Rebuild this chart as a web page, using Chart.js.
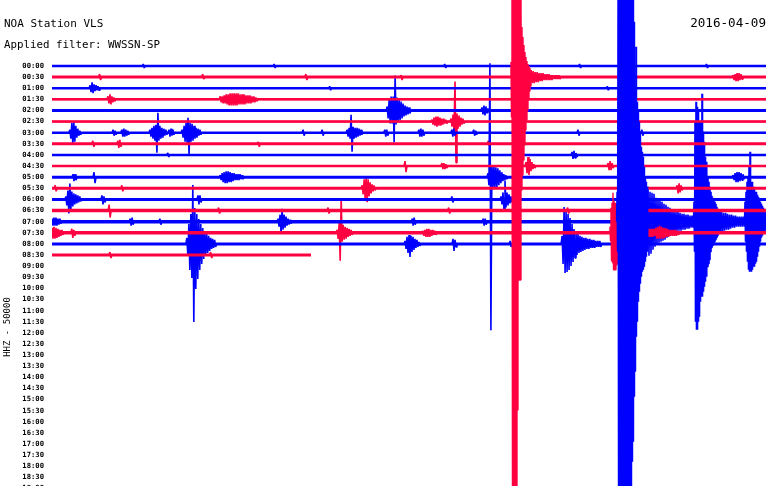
<!DOCTYPE html>
<html><head><meta charset="utf-8">
<script src="https://cdn.jsdelivr.net/npm/chart.js@4.4.1/dist/chart.umd.min.js"></script>
<style>html,body{margin:0;padding:0;background:#fff;overflow:hidden}#wrap{width:770px;height:486px;position:relative}</style>
</head><body><div id="wrap"><canvas id="c"></canvas></div>
<script>
// ---------- texts ----------
const TITLE = 'NOA Station VLS';
const FILTER = 'Applied filter: WWSSN-SP';
const DATE = '2016-04-09';
const CHANNEL = 'HHZ - 50000';
const TIME_LABELS = ['00:00','00:30','01:00','01:30','02:00','02:30','03:00','03:30','04:00','04:30',
  '05:00','05:30','06:00','06:30','07:00','07:30','08:00','08:30','09:00','09:30','10:00','10:30',
  '11:00','11:30','12:00','12:30','13:00','13:30','14:00','14:30','15:00','15:30','16:00','16:30',
  '17:00','17:30','18:00','18:30','19:00'];

// ---------- data ----------
// seconds per helicorder line, end of recorded data in the last line (s)
const ROW_SECONDS = 1800;
const LAST_ROW_END = 653;
// amplitude units between two lines
const ROW_GAP = 11.12;

// each burst: [start second, sample step (s), signed amplitudes]
const ROW_0000 = [[230,2.5,[2,-2]],[560,2.5,[2,-2]],[990,2.5,[2,-2]],[1330,2.5,[2,-2]],[1650,2.5,[2,-2]]];
const ROW_0030 = [[120,2.5,[3,-3]],[380,2.5,[3,-2]],[640,2.5,[3,-3]],[880,2.5,[2,-3]],
  [1208,2.5,[7,-6,6,-6,5,-5,5,-5,4,-4,4,-4,4,-3,3,-3,3,-3,3,-3,2,-3,2,-2,2,-2,2,-2,2,-2]],
  [1717,2.5,[2,-3,3,-4,4,-4,4,-3,3,-2]]];
const ROW_0100 = [[96,2.5,[3,-4,6,-5,4,-3,3,-2,2,-2]],[700,2.5,[2,-2]],[1400,2.5,[2,-2]]];
const ROW_0130 = [[141,2.5,[3,-4,5,-5,3,-3,2,-2]],
  [424,2.5,[3,-3,3,-4,4,-4,5,-5,5,-6,6,-6,6,-6,6,-6,6,-6,6,-5,5,-5,5,-5,5,-5,4,-4,4,-4,4,-4,3,-3,3,-3,2,-2]]];
const ROW_0200 = [[845,2.5,[4,-8,12,-13,14,-13,14,-32,35,-14,13,-12,11,-10,9,-8,7,-6,5,-5,4,-4,3,-3]],
  [1084,2.5,[3,-4,5,-5,4,-3,2,-2]]];
const ROW_0230 = [[958,2.5,[2,-3,4,-4,5,-5,5,-4,4,-4,3,-3,3,-2,2,-2]],
  [1006,2.5,[3,-5,7,-8,40,-41,8,-7,6,-5,4,-3,3,-2]]];
const ROW_0300 = [[45,2.5,[3,-6,10,-12,11,-9,7,-5,4,-3,2,-2]],[154,2.5,[3,-3,2,-2]],[176,2.5,[3,-4,4,-4,3,-3,2,-2]],
  [247,2.5,[3,-4,5,-6,7,-8,8,-20,20,-8,7,-6,5,-5,4,-3,3,-2]],[295,2.5,[3,-4,4,-3,3,-2]],
  [328,2.5,[3,-5,7,-9,10,-10,15,-22,10,-9,9,-8,7,-6,5,-5,4,-3,3,-2]],[633,2.5,[3,-3]],[681,2.5,[3,-3]],
  [744,2.5,[3,-4,5,-6,18,-19,6,-6,5,-5,5,-4,4,-3,3,-2]],[839,2.5,[3,-4,3,-3]],[925,2.5,[3,-4,4,-4,3,-3]],
  [1008,2.5,[3,-4,4,-3]],[1063,2.5,[3,-3,2,-2]],[1326,2.5,[3,-3]],[1487,2.5,[3,-3]]];
const ROW_0330 = [[103,2.5,[3,-3]],[166,2.5,[3,-4,4,-3]],[520,2.5,[2,-3]],[1100,2.5,[3,-2]],[1450,2.5,[2,-3]]];
const ROW_0400 = [[292,2.5,[2,-2]],[1311,2.5,[3,-4,4,-3,2,-2]]];
const ROW_0430 = [[890,2.5,[5,-6]],[983,2.5,[3,-3,3,-3,2,-2]],[1195,2.5,[4,-7,9,-9,7,-5,4,-3,2,-2]],[1402,2.5,[3,-4,5,-4,3,-2]]];
const ROW_0500 = [[53,2.5,[3,-4,3,-3]],[106,2.5,[5,-6]],
  [424,2.5,[2,-3,4,-5,5,-6,6,-6,6,-5,5,-5,4,-4,4,-3,3,-3,3,-3,3,-2,2,-2]],
  [1099,2.5,[4,-8,114,-153,12,-12,12,-11,10,-10,9,-8,7,-6,5,-4,3,-3,2,-2]],
  [1717,2.5,[2,-3,4,-5,5,-5,5,-4,4,-3,3,-2]]];
const ROW_0530 = [[8,2.5,[3,-3]],[176,2.5,[3,-3]],[782,2.5,[3,-6,9,-11,11,-14,9,-8,6,-5,4,-3,3,-2]],[1576,2.5,[3,-5,5,-4,3,-2]]];
const ROW_0600 = [[35,2.5,[3,-6,9,-14,16,-10,8,-7,6,-5,5,-4,4,-3,3,-2]],[126,2.5,[4,-5,3,-3]],[368,2.5,[4,-5,4,-3]],
  [1008,2.5,[3,-3]],[1132,2.5,[3,-5,7,-11,19,-8,7,-6,5,-4,3,-3,2,-2]]];
const ROW_0630 = [[144,2.5,[6,-7]],[420,2.5,[3,-3]],[696,2.5,[3,-3]],[1000,2.5,[3,-3]],[1300,2.5,[3,-3]]];
const ROW_0700 = [[0,2.5,[3,-4,4,-4,4,-4,3,-3,3,-2]],[197,2.5,[3,-4,4,-3]],[272,2.5,[3,-3]],
  [570,2.5,[3,-5,7,-12,13,-8,7,-6,5,-4,3,-3,2,-2]],[908,2.5,[3,-4,4,-3]],[1087,2.5,[3,-4,3,-3]],
  // coda of the 07:24 shock
  [1502.5,2.521,[35,-34,30,-32,29,-28,28,-25,24,-23,23,-21,22,-20,20,-19,18,-18,
    17,-16,15,-14,14,-13,12,-12,11,-11,10,-10,10,-9,9,-9,8,-8,8,-8,7,-7,7,-7,6,-6,6,-6,6]],
  // aftershock ~07:27
  [1618.5,1.26,[20,-30,100,-100,120,-108,115,-108,110,-100,100,-95,100,-80,95,-75,128,-75,90,-70,80,-65,
    65,-60,60,-55,50,-45,45,-42,40,-38,35,-30,30,-26,26,-24,24,-22,22,-20,20,-18,18,-16,15,-14,13,-12,
    12,-11,11,-10]],
  [1688,2.521,[10,-10,9,-9,9,-8,8,-8,7,-7,7,-6,6,-6,6,-5,5,-5,5,-5,5,-5,5,-5]],
  // aftershock ~07:29
  [1747.1,1.26,[20,-20,30,-30,40,-40,45,-48,55,-50,70,-50,40,-50,40,-48,35,-45,35,-45,30,-42,30,-40,
    27,-35,25,-30,22,-25,20,-20,18,-16,16,-14,14,-12,12,-10,10,-9,8,-8]]];
const ROW_0730 = [[0,2.5,[5,-6,6,-6,5,-5,4,-4,3,-3,3,-2]],[50,2.5,[4,-5,3,-3]],
  [719,2.5,[3,-6,10,-28,34,-9,8,-7,6,-6,5,-4,4,-3,3,-2]],[935,2.5,[2,-3,3,-4,4,-4,4,-4,3,-3,3,-2,2,-2]],
  [1462,2.5,[8,-8,7,-7,7,-7,6,-6,6,-6,5,-5,5,-5,5,-4,4,-4,4,-4,4,-4,4,-3,5,-6,6,-6,7,-6,6,-6,5,-5,5,-4,4,-4,3,-3,3,-3,3,-3,3,-3,2,-2]]];
const ROW_0800 = [[340,2.5,[6,-12,20,-26,30,-34,59,-78,36,-45,30,-35,25,-26,20,-20,16,-15,13,-11,10,-9,8,-7,6,-5,5,-4,4,-3]],
  [890,2.5,[3,-5,7,-9,9,-13,8,-8,7,-6,5,-4,4,-3,2,-2]],[1011,2.5,[5,-7,4,-3]],[1155,2.5,[3,-3]],
  [1286,2.5,[8,-20,37,-29,33,-28,30,-26,26,-22,20,-18,15,-14,12,-11,10,-9,8,-8,7,-7,6,-6,6,-5,5,-5,5,-4,4,-4,4,-4,3,-3,3,-3,3,-3]]];
const ROW_0830 = [[146,2.5,[3,-3]],[400,2.5,[3,-3]]];

// the three largest arrivals (drawn above everything else)
const MAIN_0030 = [1157.1,1.26,[15,-40,90,-420,90,-420,90,-420,90,-420,90,-420,90,-333,90,-203,90,-203,90,-203,
  90,-113,50,-98,40,-83,32,-68,25,-53,20,-43,16,-33,13,-23,11,-14,9,-9]];
const MAIN_0730 = [1406.7,1.26,[6,-8,25,-28,30,-30,40,-37,32,-37,30,-37,30,-32,28,-30,28,-28,27,-27,26,-26,
  24,-25,22,-24,20,-22,18,-20,16,-18,15,-16,14,-14,12,-12,11,-11,10,-10,9,-9]];
const MAIN_0700 = [1424.4,1.26,[30,-30,240,-280,240,-280,240,-280,240,-280,240,-280,240,-280,240,-280,
  240,-280,240,-280,240,-280,240,-280,240,-280,240,-280,240,-280,240,-240,240,-220,200,-175,130,-150,175,-115,
  120,-100,110,-80,100,-70,90,-62,75,-55,70,-50,65,-48,55,-45,45,-40,40,-35,35,-30]];

// ---------- style ----------
const BLUE = '#0000ff';
const RED = 'rgb(255,0,64)';
const BASE_WIDTH = [2.5,3,2.5,2.5,3,2.5,2.5,3,2.5,2.5,3,3,3,3.5,3.5,3.5,3,3];

const ROWS = [ROW_0000,ROW_0030,ROW_0100,ROW_0130,ROW_0200,ROW_0230,ROW_0300,ROW_0330,ROW_0400,
  ROW_0430,ROW_0500,ROW_0530,ROW_0600,ROW_0630,ROW_0700,ROW_0730,ROW_0800,ROW_0830];

function burstPoints(base, burst, pts) {
  const [t0, step, vals] = burst;
  pts.push({x: t0 - step, y: base});
  vals.forEach((v, i) => pts.push({x: t0 + i * step, y: base - v}));
  pts.push({x: t0 + vals.length * step, y: base});
}
function buildTrace(k, bursts, end) {
  const base = k * ROW_GAP;
  const pts = [{x: 0, y: base}];
  bursts.forEach(b => burstPoints(base, b, pts));
  const last = pts[pts.length - 1].x;
  if (end > last) pts.push({x: end, y: base});
  return pts;
}
function buildBurst(k, burst) {
  const pts = [];
  burstPoints(k * ROW_GAP, burst, pts);
  return pts;
}

const datasets = [];
ROWS.forEach((bursts, k) => {
  const end = k === ROWS.length - 1 ? LAST_ROW_END : ROW_SECONDS;
  const color = k % 2 === 0 ? BLUE : RED;
  datasets.push({data: buildTrace(k, bursts, end), borderColor: color, borderWidth: 1.6, order: 300 - k});
  datasets.push({data: [{x: 0, y: k * ROW_GAP}, {x: end, y: k * ROW_GAP}], borderColor: color,
    borderWidth: BASE_WIDTH[k], order: 200 - k});
});
datasets.push({data: buildBurst(1, MAIN_0030), borderColor: RED, borderWidth: 1.4, order: 3});
datasets.push({data: buildBurst(15, MAIN_0730), borderColor: RED, borderWidth: 1.4, order: 2});
datasets.push({data: buildBurst(14, MAIN_0700), borderColor: BLUE, borderWidth: 1.4, order: 1});

const textPlugin = {
  id: 'texts',
  afterDraw(chart) {
    const ctx = chart.ctx;
    ctx.save();
    ctx.fillStyle = '#000';
    ctx.textBaseline = 'alphabetic';
    ctx.textAlign = 'left';
    ctx.font = "11px 'DejaVu Sans Mono'";
    ctx.fillText(TITLE, 4, 27);
    ctx.font = "10.8px 'DejaVu Sans Mono'";
    ctx.fillText(FILTER, 4, 48);
    ctx.textAlign = 'right';
    ctx.font = "12.6px 'DejaVu Sans Mono'";
    ctx.fillText(DATE, 766, 27);
    ctx.translate(8, 327);
    ctx.rotate(-Math.PI / 2);
    ctx.textAlign = 'center';
    ctx.textBaseline = 'middle';
    ctx.font = "9px 'DejaVu Sans Mono'";
    ctx.fillText(CHANNEL, 0, 0);
    ctx.restore();
  }
};

new Chart(document.getElementById('c'), {
  type: 'line',
  data: {datasets},
  options: {
    responsive: true, maintainAspectRatio: false, devicePixelRatio: 1,
    animation: false, parsing: false, events: [],
    layout: {padding: {left: 0, right: 4, top: 0, bottom: 0}},
    elements: {point: {radius: 0}, line: {tension: 0, fill: false, borderJoinStyle: 'bevel'}},
    plugins: {legend: {display: false}, tooltip: {enabled: false}, title: {display: false}},
    scales: {
      x: {type: 'linear', min: 0, max: ROW_SECONDS, display: false},
      y: {
        type: 'linear', min: -66, max: 420, reverse: true, position: 'left',
        grid: {display: false, drawTicks: false}, border: {display: false},
        ticks: {autoSkip: false, padding: 8, color: '#000',
          font: {family: 'DejaVu Sans Mono', size: 7.2, weight: 'bold'},
          callback: (v, i) => TIME_LABELS[i]},
        afterBuildTicks: s => { s.ticks = TIME_LABELS.map((_, i) => ({value: i * ROW_GAP})); },
        afterFit: s => { s.width = 52; s.paddingTop = 0; s.paddingBottom = 0; }
      }
    }
  },
  plugins: [textPlugin]
});
</script></body></html>
